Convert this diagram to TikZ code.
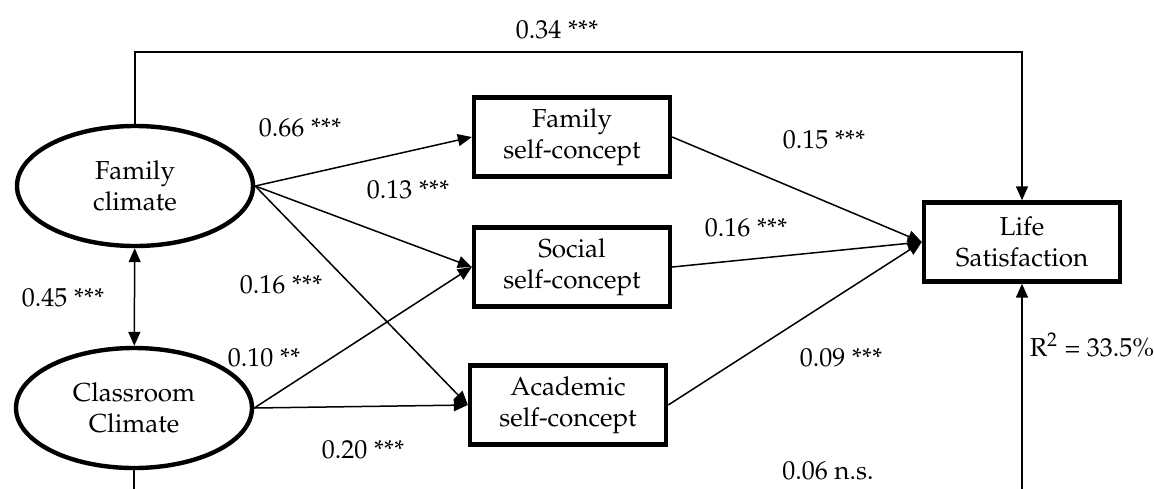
\documentclass[tikz,border=0pt]{standalone}
\usepackage{amsmath}
\usepackage[T1]{fontenc}
\usepackage{mathpazo}
\usetikzlibrary{arrows.meta,shapes.geometric}

\begin{document}
\begin{tikzpicture}[x=0.5pt,y=-0.5pt,
  txt/.style={font=\fontsize{13}{15.5}\selectfont},
  latent/.style={txt,draw,line width=2.2pt,ellipse,minimum width=118pt,minimum height=60pt,align=center},
  observed/.style={txt,draw,line width=2.2pt,minimum width=98pt,minimum height=39.5pt,align=center},
  path/.style={line width=0.75pt,-{Triangle[length=7pt,width=6pt]}},
  coef/.style={txt,inner sep=0pt}]
\clip (0,0) rectangle (1154,488);
% latent variables
\node[latent] (fam) at (135,186) {Family\\climate};
\node[latent] (cls) at (134,408) {Classroom\\Climate};
% self-concepts
\node[observed] (fsc) at (572,137) {Family\\self-concept};
\node[observed] (ssc) at (572,267) {Social\\self-concept};
\node[observed] (asc) at (568,405) {Academic\\self-concept};
\node[observed] (life) at (1022,242) {Life\\Satisfaction};
\coordinate (top) at (557,52);
\coordinate (bot) at (580,500);
% paths
\draw[path] (fam.north) |- (top) -| (life.north);
\draw[path] (fam.east) -- (fsc.west);
\draw[path] (fam.east) -- (ssc.west);
\draw[path] (fam.east) -- (asc.west);
\draw[path] (cls.east) -- (ssc.west);
\draw[path] (cls.east) -- (asc.west);
\draw[path] (fsc.east) -- (life.west);
\draw[path] (ssc.east) -- (life.west);
\draw[path] (asc.east) -- (life.west);
\draw[path] (cls.south) |- (bot) -| (life.south);
\draw[line width=0.75pt,{Triangle[length=7pt,width=6pt]}-{Triangle[length=7pt,width=6pt]}] (fam) -- (cls);
% coefficients
\node[coef] (l34) at (557,30) {0.34 ***};
\node[coef] (l66) at (300,128) {0.66 ***};
\node[coef] (l13) at (408,190) {0.13 ***};
\node[coef] (l16a) at (281,285) {0.16 ***};
\node[coef] (l10) at (264,358) {0.10 **};
\node[coef] (l20) at (363,450) {0.20 ***};
\node[coef] (l15) at (824,140) {0.15 ***};
\node[coef] (l16b) at (746,228) {0.16 ***};
\node[coef] (l09) at (841,358) {0.09 ***};
\node[coef] (l45) at (63,298) {0.45 ***};
\node[coef] (r2) at (1092,345) {R\textsuperscript{2} = 33.5\%};
\node[coef] (l06) at (828,471) {0.06 n.s.};
\end{tikzpicture}
\end{document}
